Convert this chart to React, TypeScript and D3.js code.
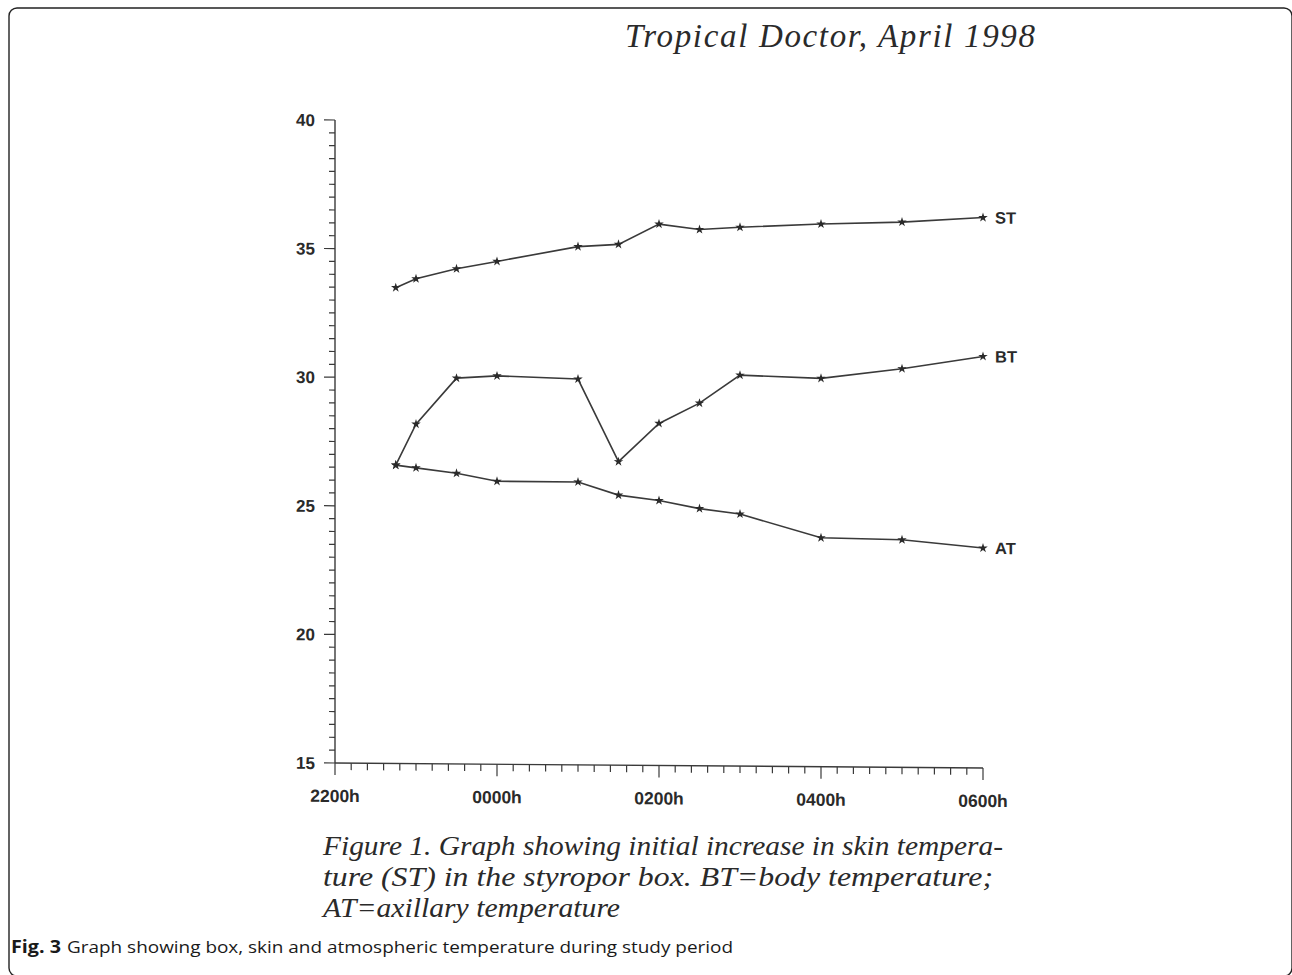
import React from "react";
import * as d3 from "d3";

const timeLabels = ["2245", "2300", "2330", "0000", "0100", "0130", "0200", "0230", "0300", "0400", "0500", "0600"];
const stValues = [33.5, 33.85, 34.25, 34.55, 35.15, 35.25, 36.05, 35.85, 35.95, 36.1, 36.2, 36.4];
const btValues = [26.6, 28.2, 30.0, 30.1, 30.0, 26.8, 28.3, 29.1, 30.2, 30.1, 30.5, 31.0];
const atValues = [26.6, 26.5, 26.3, 26.0, 26.0, 25.5, 25.3, 25.0, 24.8, 23.9, 23.85, 23.55];
const seriesNames = ["ST", "BT", "AT"];
const xTickLabels = ["2200h", "0000h", "0200h", "0400h", "0600h"];
const yTickLabels = ["15", "20", "25", "30", "35", "40"];

const title = "Tropical Doctor, April 1998";
const captionLines = [
  "Figure 1. Graph showing initial increase in skin tempera-",
  "ture (ST) in the styropor box. BT=body temperature;",
  "AT=axillary temperature",
];
const figLabel = "Fig. 3";
const figText = "Graph showing box, skin and atmospheric temperature during study period";

const toHours = (s: string) => {
  const h = +s.slice(0, 2);
  const m = +s.slice(2, 4);
  return ((h - 22 + 24) % 24) + m / 60;
};

const SERIF = '"Liberation Serif", "Times New Roman", serif';
const SANS = '"Liberation Sans", Arial, sans-serif';
const FIGSANS = '"Open Sans", "Liberation Sans", sans-serif';

export default function App() {
  const W = 1292;
  const H = 975;
  const ox = 335;
  const oy = 763;
  const pw = 648;
  const ph = 643;

  const x = d3.scaleLinear().domain([0, 8]).range([0, pw]);
  const y = d3.scaleLinear().domain([15, 40]).range([0, -ph]);

  const times = timeLabels.map(toHours);
  const series = [stValues, btValues, atValues];
  const line = d3
    .line<[number, number]>()
    .x((d) => x(d[0]))
    .y((d) => y(d[1]));
  const star = d3.symbol().type(d3.symbolStar).size(28)();

  const yMinor = d3.range(15, 40.001, 0.5);
  const xMinor = d3.range(0, 8.001, 0.2);
  const stroke = "#3a3a3a";

  return (
    <svg
      width={W}
      height={H}
      style={{ position: "absolute", left: 0, top: 0, background: "#fff" }}
    >
      <rect x={0} y={0} width={W} height={H} fill="#fff" />
      <rect
        x={9}
        y={8}
        width={1283}
        height={968}
        rx={8}
        fill="none"
        stroke="#222"
        strokeWidth={1.4}
      />
      <text
        x={625}
        y={47}
        style={{ fontFamily: SERIF }}
        fontStyle="italic"
        fontSize={33}
        fill="#2a2a2a"
        textLength={410}
        lengthAdjust="spacing"
      >
        {title}
      </text>

      <g transform={`translate(${ox},${oy}) skewY(0.44)`}>
        {/* y axis */}
        <line x1={0} y1={y(15)} x2={0} y2={y(40)} stroke={stroke} strokeWidth={1.4} />
        {yMinor.map((v, i) => {
          const major = Math.abs(v % 5) < 1e-6;
          return (
            <line
              key={"yt" + i}
              x1={major ? -11 : -6}
              x2={0}
              y1={y(v)}
              y2={y(v)}
              stroke={stroke}
              strokeWidth={1.2}
            />
          );
        })}
        {yTickLabels.map((t) => (
          <text
            key={"yl" + t}
            x={-20}
            y={y(+t)}
            dy="0.36em"
            textAnchor="end"
            style={{ fontFamily: SANS }}
            fontWeight="bold"
            fontSize={17}
            fill="#2a2a2a"
          >
            {t}
          </text>
        ))}

        {/* x axis */}
        <line x1={x(0)} y1={0} x2={x(8)} y2={0} stroke={stroke} strokeWidth={1.4} />
        {xMinor.map((v, i) => {
          const major = Math.abs(v - Math.round(v / 2) * 2) < 1e-6;
          return (
            <line
              key={"xt" + i}
              x1={x(v)}
              x2={x(v)}
              y1={0}
              y2={major ? 12 : 7}
              stroke={stroke}
              strokeWidth={1.2}
            />
          );
        })}
        {xTickLabels.map((t, i) => (
          <text
            key={"xl" + t}
            x={x(i * 2)}
            y={39}
            textAnchor="middle"
            style={{ fontFamily: SANS }}
            fontWeight="bold"
            fontSize={17.5}
            fill="#2a2a2a"
          >
            {t}
          </text>
        ))}

        {/* series */}
        {series.map((vals, si) => {
          const pts = times.map((t, i) => [t, vals[i]] as [number, number]);
          const last = pts[pts.length - 1];
          return (
            <g key={"s" + si}>
              <path d={line(pts) || ""} fill="none" stroke={stroke} strokeWidth={1.6} />
              {pts.map((p, i) => (
                <path
                  key={i}
                  d={star || ""}
                  transform={`translate(${x(p[0])},${y(p[1])})`}
                  fill="#2a2a2a"
                />
              ))}
              <text
                x={x(last[0]) + 12}
                y={y(last[1])}
                dy="0.36em"
                style={{ fontFamily: SANS }}
                fontWeight="bold"
                fontSize={16.5}
                fill="#2a2a2a"
              >
                {seriesNames[si]}
              </text>
            </g>
          );
        })}
      </g>

      {captionLines.map((l, i) => (
        <text
          key={"c" + i}
          x={323}
          y={855 + i * 31}
          style={{ fontFamily: SERIF }}
          fontStyle="italic"
          fontSize={28}
          fill="#2a2a2a"
          textLength={[680, 670, 297][i]}
          lengthAdjust="spacingAndGlyphs"
        >
          {l}
        </text>
      ))}

      <text
        x={11}
        y={953}
        style={{ fontFamily: FIGSANS }}
        fontWeight="bold"
        fontSize={17}
        fill="#1a1a1a"
        textLength={50}
        lengthAdjust="spacingAndGlyphs"
      >
        {figLabel}
      </text>
      <text
        x={67}
        y={953}
        style={{ fontFamily: FIGSANS }}
        fontSize={17}
        fill="#1a1a1a"
        textLength={666}
        lengthAdjust="spacingAndGlyphs"
      >
        {figText}
      </text>
    </svg>
  );
}
